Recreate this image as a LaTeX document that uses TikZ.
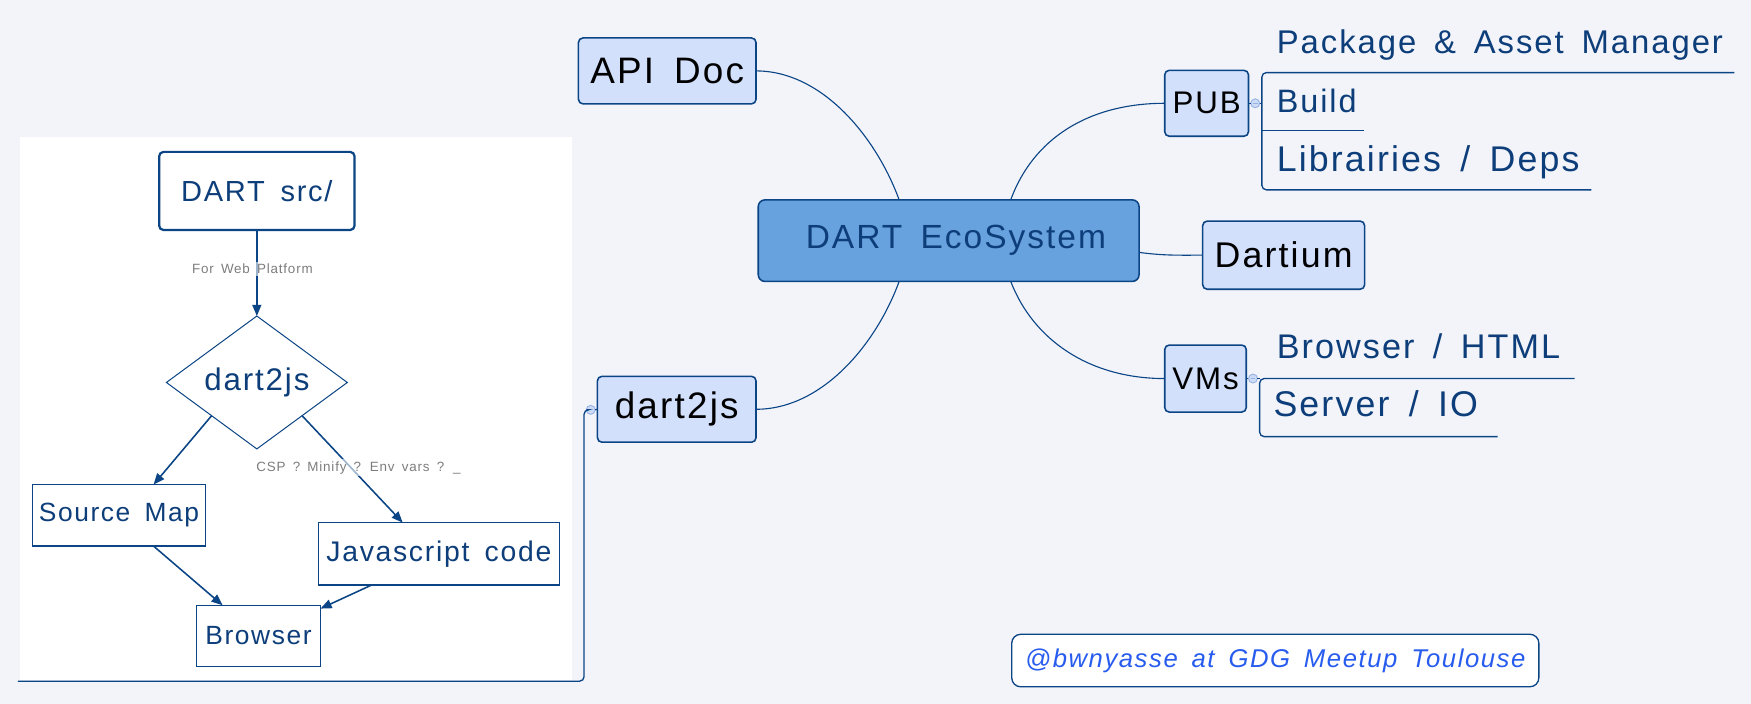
\documentclass[tikz,border=0pt]{standalone}
\usepackage{fontspec}
\setmainfont{Liberation Sans}
\newfontfamily\hand[LetterSpace=6,WordSpace=1.6]{Liberation Sans}
\usetikzlibrary{shapes.geometric,arrows.meta,calc}
\definecolor{bgc}{RGB}{242,244,250}
\definecolor{bdr}{RGB}{12,69,133}
\definecolor{tblue}{RGB}{13,62,122}
\definecolor{nfill}{RGB}{210,224,252}
\definecolor{cfill}{RGB}{104,162,222}
\definecolor{fblue}{RGB}{40,92,238}
\definecolor{lgray}{RGB}{125,125,125}
\definecolor{hubf}{RGB}{205,219,247}
\definecolor{hubd}{RGB}{150,178,228}
\newcommand\fsz[1]{\fontsize{#1pt}{#1pt}\selectfont}
\tikzset{
  mmnode/.style={draw=bdr, fill=nfill, rounded corners=2pt, line width=0.7pt, inner sep=0pt, outer sep=0pt, text=black},
  flowbox/.style={draw=bdr, fill=white, line width=0.6pt, inner sep=0pt, outer sep=0pt, text=tblue},
  conn/.style={draw=bdr, line width=0.5pt},
  uline/.style={draw=bdr, line width=0.6pt, rounded corners=2pt},
  farrow/.style={draw=bdr, line width=0.7pt, -{Triangle[length=5pt,width=4pt]}},
  childtxt/.style={inner sep=0pt, anchor=base west, text=tblue},
  elabel/.style={inner sep=1pt, text=lgray, fill=white, fill opacity=0.6, text opacity=1, font=\hand\fsz{6}},
  hub/.style={circle, draw=hubd, fill=hubf, line width=0.4pt, minimum size=4pt, inner sep=0pt, outer sep=0pt,
    path picture={\draw[hubd, line width=0.4pt] ([xshift=-1.1pt]path picture bounding box.center) -- ([xshift=1.1pt]path picture bounding box.center);}}
}
\begin{document}
\begin{tikzpicture}[x=0.5pt,y=-0.5pt]
\useasboundingbox (0,0) rectangle (1568,630);
\fill[bgc] (0,0) rectangle (1568,630);
\fill[white] (18,123) rectangle (512,609);

% ---------- flowchart ----------
\node[flowbox, rounded corners=2pt, line width=1pt, minimum width=87.5pt, minimum height=35pt, font=\hand\fsz{13}] (src) at (230,171) {DART src/};
\node[diamond, draw=bdr, fill=white, line width=0.45pt, minimum width=81pt, minimum height=59.5pt, aspect=1.36, inner sep=0pt, outer sep=0pt, text=tblue, font=\hand\fsz{14}] (dia) at (230,342.5) {dart2js};
\node[flowbox, minimum width=77.5pt, minimum height=27.5pt, font=\hand\fsz{11.8}] (smap) at (106.5,461.5) {Source Map};
\node[flowbox, minimum width=108pt, minimum height=28pt, font=\hand\fsz{12.7}] (js) at (393,496) {Javascript code};
\node[flowbox, minimum width=55.5pt, minimum height=27.5pt, font=\hand\fsz{11.8}] (brw) at (231.5,569.5) {Browser};

\draw[farrow] (src.south) -- (dia.north);
\draw[farrow] (dia.south west) -- ($(smap.north west)!0.7!(smap.north east)$);
\draw[farrow] (dia.south east) -- ($(js.north west)!0.35!(js.north east)$);
\draw[farrow] ($(smap.south west)!0.7!(smap.south east)$) -- ($(brw.north west)!0.21!(brw.north east)$);
\draw[farrow] ($(js.south west)!0.22!(js.south east)$) -- ([yshift=-1.5pt]brw.north east);
\node[elabel] (l1) at (226,241) {For Web Platform};
\node[elabel] (l2) at (321,419) {CSP ? Minify ? Env vars ? \_};

% ---------- mind map ----------
\node[mmnode, minimum width=79.5pt, minimum height=29.5pt, font=\hand\fsz{16.5}] (api) at (597.5,63.5) {API Doc};
\node[mmnode, fill=cfill, rounded corners=3pt, minimum width=170.5pt, minimum height=36.5pt, text=tblue, font=\hand\fsz{15}] (ctr) at (849.5,215.5) {\hspace*{6.5pt}DART EcoSystem};
\node[mmnode, minimum width=71pt, minimum height=29.5pt, font=\hand\fsz{16.5}] (d2j) at (606,366.5) {dart2js};
\node[mmnode, minimum width=37.5pt, minimum height=29.5pt, font=\hand\fsz{14}] (pub) at (1080.5,92.5) {PUB};
\node[mmnode, minimum width=72.5pt, minimum height=30.5pt, font=\hand\fsz{16}] (dartium) at (1149.5,228.5) {Dartium};
\node[mmnode, minimum width=36.5pt, minimum height=30pt, font=\hand\fsz{14}] (vms) at (1079.5,339) {VMs};

\coordinate (ct1) at ($(ctr.north west)!0.37!(ctr.north east)$);
\coordinate (ct2) at ($(ctr.north west)!0.663!(ctr.north east)$);
\coordinate (cb1) at ($(ctr.south west)!0.37!(ctr.south east)$);
\coordinate (cb2) at ($(ctr.south west)!0.663!(ctr.south east)$);
\coordinate (ce) at ($(ctr.east)+(0,10.5)$);

\draw[conn] (api.east) .. controls +(60,0) and +(-20,-55) .. (ct1);
\draw[conn] (cb1) .. controls +(-20,55) and +(60,0) .. (d2j.east);
\draw[conn] (ct2) .. controls +(20,-55) and +(-68,0) .. (pub.west);
\draw[conn] (cb2) .. controls +(20,52) and +(-68,0) .. (vms.west);
\draw[conn] (ce) .. controls +(22,3) and +(-22,0) .. (dartium.west);

% hubs
\node[hub] (h1) at (1124,92.5) {};
\node[hub] (h2) at (1122,339) {};
\node[hub] (h3) at (529,367) {};
\draw[conn] (pub.east) -- (h1.west);
\draw[conn] (vms.east) -- (h2.west);
\draw[conn] (d2j.west) -- (h3.east);

% PUB children
\coordinate (pa) at (1130,65);
\coordinate (pb) at (1130,117);
\coordinate (pc) at (1130,170);
\coordinate (pah) at (1130,92.5);
\draw[conn] (h1.east) -- (pah);
\draw[uline] (1553,65) -- (pa) -- (pc) -- (1425,170);
\draw[uline] (pb) -- (1221,117);
\node[childtxt, font=\hand\fsz{14.7}] (t1) at (1143,47.5) {Package \& Asset Manager};
\node[childtxt, font=\hand\fsz{14.5}] (t2) at (1143,100.5) {Build};
\node[childtxt, font=\hand\fsz{16}] (t3) at (1143,153.5) {Librairies / Deps};

% VMs children
\coordinate (va) at (1128,339);
\coordinate (vb) at (1128,391);
\draw[conn] (h2.east) -- (va);
\draw[uline] (1410,339) -- (va) -- (vb) -- (1341,391);
\node[childtxt, font=\hand\fsz{15.3}] (t4) at (1143,321) {Browser / HTML};
\node[childtxt, font=\hand\fsz{16}] (t5) at (1140,373) {Server / IO};

% dart2js to flowchart panel
\draw[conn, line width=0.6pt, rounded corners=2pt] (h3.west) -- (523,367) -- (523,610) -- (16,610);

% footer
\node[draw=bdr, fill=white, rounded corners=4pt, line width=0.6pt, inner sep=0pt, minimum width=236pt, minimum height=23.5pt, text=fblue, font=\hand\itshape\fsz{11.5}] (foot) at (1142,591.5) {@bwnyasse at GDG Meetup Toulouse};
\end{tikzpicture}
\end{document}
